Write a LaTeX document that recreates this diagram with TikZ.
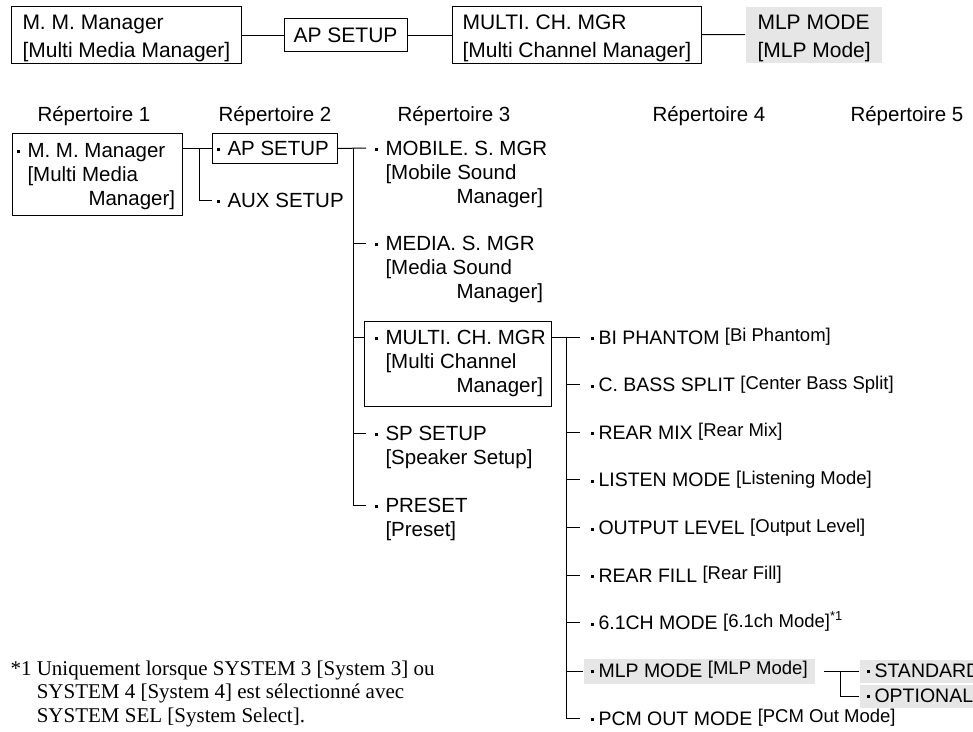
\documentclass[tikz,border=0pt]{standalone}
\usepackage{fontspec}
\newfontfamily\sansf{Liberation Sans}
\newfontfamily\seriff{Liberation Serif}
\definecolor{hilite}{RGB}{230,230,230}
% small square bullets: wide one for the menu columns, narrow one for the settings column
\newcommand\bul{\makebox[11pt][l]{\raisebox{4pt}{\rule{3pt}{3pt}}}}
\newcommand\bulr{\makebox[8pt][l]{\raisebox{4pt}{\rule{3pt}{3pt}}}}
% bracketed display names, set a little smaller and raised
\newcommand\sm[1]{{\fontsize{18.5}{20}\selectfont\raisebox{2.5pt}{#1}}}
\begin{document}
\begin{tikzpicture}[x=1pt,y=-1pt,line width=1pt,
  txt/.style={inner sep=0pt,anchor=base west,align=left,font=\sansf\fontsize{20.5}{24}\selectfont},
  one/.style={txt,text height=14pt,text depth=0pt},
  toptxt/.style={txt,font=\sansf\fontsize{21}{28}\selectfont},
  frame/.style={draw,inner sep=0pt,anchor=north west},
  item/.style={one,font=\sansf\fontsize{19.5}{24}\selectfont},
  hl/.style={fill=hilite,inner xsep=7pt,inner ysep=2pt,text height=15pt,text depth=4pt,
    anchor=base west,font=\sansf\fontsize{19.5}{24}\selectfont}]
\useasboundingbox (0,0) rectangle (973,731);
\clip (0,0) rectangle (973,731);

% ---- path line at the top (multi-line texts are placed by their last baseline) ----
\node[frame,minimum width=230pt,minimum height=57pt] (top1) at (11,6) {};
\node[toptxt] (top1t) at (22,57) {M. M. Manager\\{}[Multi Media Manager]};
\node[frame,minimum width=123pt,minimum height=33pt] (top2) at (284,18) {};
\node[toptxt,anchor=base] (top2t) at (345.5,42) {AP SETUP};
\node[frame,minimum width=249pt,minimum height=57pt] (top3) at (452,6) {};
\node[toptxt] (top3t) at (462,57) {MULTI. CH. MGR\\{}[Multi Channel Manager]};
\node[fill=hilite,inner sep=0pt,anchor=north west,minimum width=136pt,minimum height=56pt] (top4) at (745,6) {};
\node[toptxt] (top4t) at (757,57) {MLP MODE\\{}[MLP Mode]};
\draw (top1) -- (top2);
\draw (top2) -- (top3);
\draw (top3) -- (top4);

% ---- column headings ----
\node[one] (h1) at (37,121) {Répertoire 1};
\node[one] (h2) at (218,121) {Répertoire 2};
\node[one] (h3) at (397,121) {Répertoire 3};
\node[one] (h4) at (652,121) {Répertoire 4};
\node[one] (h5) at (850,121) {Répertoire 5};

% ---- level 1 ----
\node[frame,minimum width=170pt,minimum height=82pt] (r1) at (12,133) {};
\node[txt] (r1t) at (16,205) {\bul M. M. Manager\\\hspace*{11pt}[Multi Media\\\hspace*{72pt}Manager]};

% ---- level 2 ----
\node[frame,minimum width=125pt,minimum height=30pt] (ap) at (212,133) {};
\node[one] (apt) at (216,155) {\bul AP SETUP};
\node[one] (aux) at (216,207) {\bul AUX SETUP};
\draw (r1.east |- ap) -- (ap.west);
\coordinate (b2) at (199,148);
\draw (b2) |- ([xshift=-4pt]aux.west);

% ---- level 3 ----
\node[txt] (mob) at (374,203) {\bul MOBILE. S. MGR\\\hspace*{11pt}[Mobile Sound\\\hspace*{82pt}Manager]};
\node[txt] (med) at (374,298) {\bul MEDIA. S. MGR\\\hspace*{11pt}[Media Sound\\\hspace*{82pt}Manager]};
\node[frame,minimum width=187pt,minimum height=85pt] (mcm) at (364,321) {};
\node[txt] (mcmt) at (374,392) {\bul MULTI. CH. MGR\\\hspace*{11pt}[Multi Channel\\\hspace*{82pt}Manager]};
\node[txt] (sp) at (374,464) {\bul SP SETUP\\\hspace*{11pt}[Speaker Setup]};
\node[txt] (pre) at (374,536) {\bul PRESET\\\hspace*{11pt}[Preset]};
% first-line heights of the entries, where their ticks meet them
\coordinate (mobl) at ([shift={(-8pt,55pt)}]mob.base west);
\coordinate (medl) at ([shift={(-8pt,55pt)}]med.base west);
\coordinate (mcml) at ([yshift=55pt]mcmt.base west);
\coordinate (spl) at ([shift={(-8pt,31pt)}]sp.base west);
\coordinate (prel) at ([shift={(-8pt,31pt)}]pre.base west);
\draw (ap.east) -- (mobl);
\coordinate (b3) at (353,148);
\draw (b3) |- (prel);
\draw (b3 |- medl) -- (medl);
\draw (b3 |- mcml) -- (mcm.west |- mcml);
\draw (b3 |- spl) -- (spl);

% ---- level 4 ----
\node[item] (bi)  at (590,344)    {\bulr BI PHANTOM \sm{[Bi Phantom]}};
\node[item] (cb)  at (590,391.6)  {\bulr C. BASS SPLIT \sm{[Center Bass Split]}};
\node[item] (rm)  at (590,439.3)  {\bulr REAR MIX \sm{[Rear Mix]}};
\node[item] (lm)  at (590,486.9)  {\bulr LISTEN MODE \sm{[Listening Mode]}};
\node[item] (ol)  at (590,534.5)  {\bulr OUTPUT LEVEL \sm{[Output Level]}};
\node[item] (rf)  at (590,582.1)  {\bulr REAR FILL \sm{[Rear Fill]}};
\node[item] (c61) at (590,629.75) {\bulr 6.1CH MODE \sm{[6.1ch Mode]\textsuperscript{*1}}};
\node[hl,inner ysep=3pt] (mlp) at (583,677.4) {\bulr MLP MODE \sm{[MLP Mode]}};
\node[item] (pcm) at (590,725)    {\bulr PCM OUT MODE \sm{[PCM Out Mode]}};
\draw (mcm.east |- mcml) -- ([xshift=-10pt]bi.west);
\coordinate (b4) at (566,337);
\draw (b4) |- ([xshift=-10pt]pcm.west);
\foreach \n in {cb,rm,lm,ol,rf,c61}
  \draw (b4 |- \n.west) -- ([xshift=-10pt]\n.west);
\draw (b4 |- mlp.west) -- (mlp.west);

% ---- level 5 ----
\node[hl] (std) at (859,677.4) {\bulr STANDARD};
\node[hl] (opt) at (859,702) {\bulr OPTIONAL};
\draw ([xshift=9pt]mlp.east) -- (std.west);
\coordinate (b5) at ([xshift=25pt]mlp.east);
\draw (b5) |- (opt.west);

% ---- footnote ----
\node[txt,font=\seriff\fontsize{21}{23.5}\selectfont] (fn) at (10,722)
  {*1 Uniquement lorsque SYSTEM 3 [System 3] ou\\\hspace*{26.25pt}SYSTEM 4 [System 4] est sélectionné avec\\\hspace*{26.25pt}SYSTEM SEL [System Select].};
\end{tikzpicture}
\end{document}
